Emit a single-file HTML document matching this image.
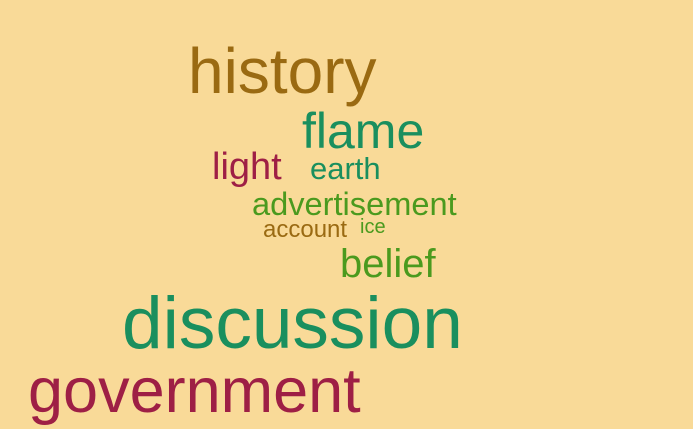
<!DOCTYPE html>
<html><head><meta charset="utf-8"><style>
html,body{margin:0;padding:0;background:#f9da98;}
svg{display:block;}
text{font-family:"Liberation Sans",Arial,sans-serif;}
</style></head><body>
<svg width="693" height="429" viewBox="0 0 693 429">
<rect x="0" y="0" width="693" height="429" fill="#f9da98"/>
<g id="words"></g>
</svg>
<script>
const words = ["history","flame","light","earth","advertisement","account","ice","belief","discussion","government"];
const sizes = [64,50,38,31,32.6,24,20,40,73,63];
const colors = ["#9a6a12","#1a8f5e","#9e1f45","#1a8f5e","#4b9a1e","#9a6a12","#4b9a1e","#4b9a1e","#1a8f5e","#9e1f45"];
const xs = [188,302,212,310,252,263,360,340,122,28];
const ys = [93,148,179,179,215,237,233,277,348,412];
const g = document.getElementById('words');
for (let i = 0; i < words.length; i++) {
  const t = document.createElementNS('http://www.w3.org/2000/svg','text');
  t.setAttribute('x', xs[i]);
  t.setAttribute('y', ys[i]);
  t.setAttribute('font-size', sizes[i]);
  t.setAttribute('fill', colors[i]);
  t.textContent = words[i];
  
  
  g.appendChild(t);
}
</script>
</body></html>
